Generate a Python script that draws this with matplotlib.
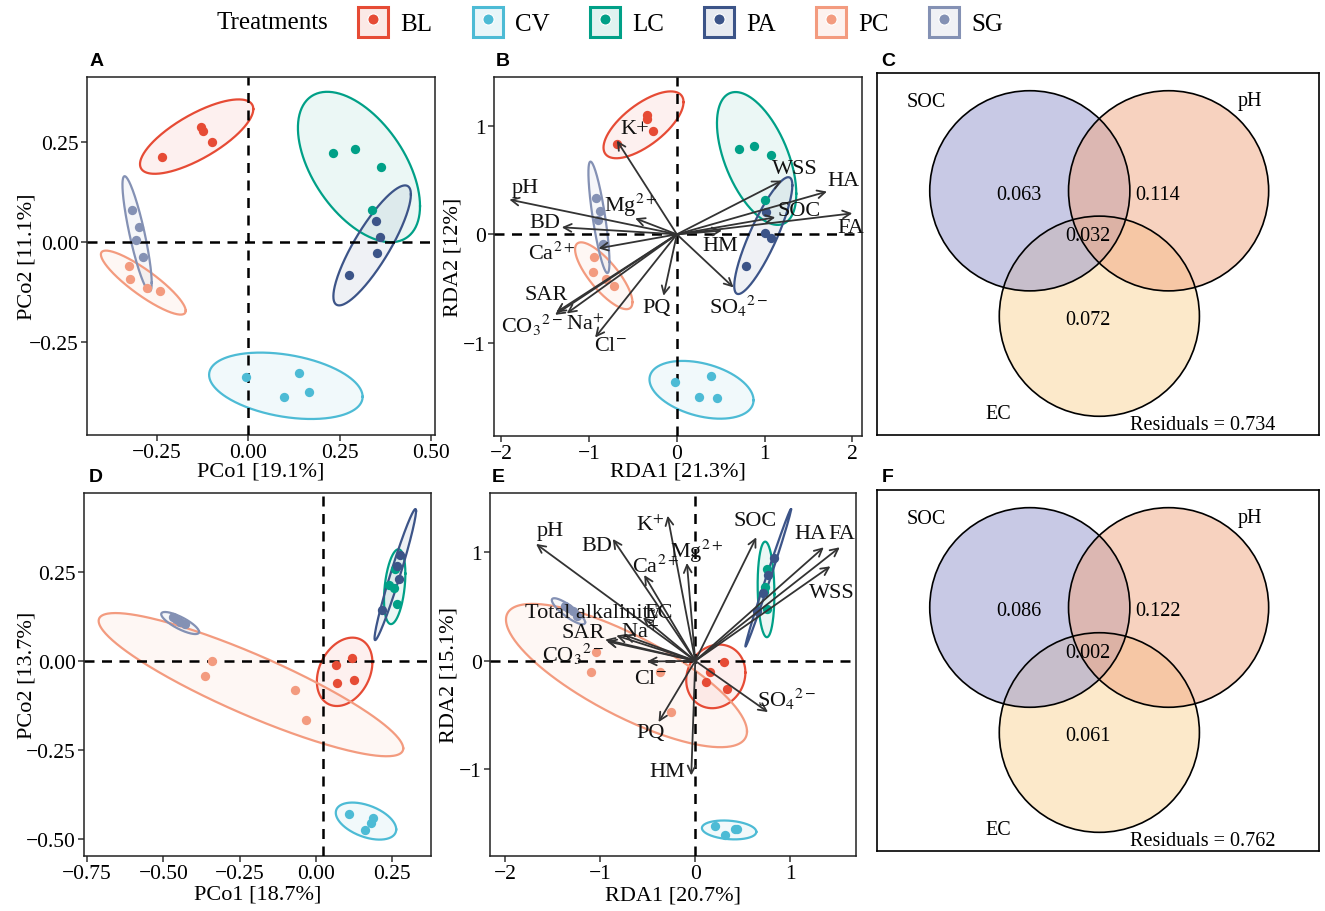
import matplotlib
matplotlib.use("Agg")
import matplotlib.pyplot as plt
import numpy as np
from matplotlib.patches import Patch, Circle
from matplotlib.lines import Line2D
from matplotlib.legend_handler import HandlerTuple
from matplotlib.colors import to_rgba

plt.rcParams['font.family'] = ['Liberation Serif', 'DejaVu Serif']
plt.rcParams['mathtext.fontset'] = 'stix'
plt.rcParams['axes.unicode_minus'] = True

groups = ["BL", "CV", "LC", "PA", "PC", "SG"]
colors = ["#E64B35", "#4DBBD5", "#00A087", "#3C5488", "#F39B7F", "#8491B4"]

# ---- panel A: PCoA
a_x = {"BL": [-0.235, -0.130, -0.123, -0.100], "CV": [-0.007, 0.138, 0.165, 0.097],
       "LC": [0.231, 0.291, 0.362, 0.339], "PA": [0.349, 0.360, 0.353, 0.275],
       "PC": [-0.326, -0.324, -0.276, -0.242], "SG": [-0.319, -0.298, -0.306, -0.287]}
a_y = {"BL": [0.213, 0.288, 0.279, 0.251], "CV": [-0.338, -0.326, -0.375, -0.388],
       "LC": [0.222, 0.234, 0.189, 0.081], "PA": [0.053, 0.012, -0.027, -0.081],
       "PC": [-0.059, -0.092, -0.115, -0.123], "SG": [0.080, 0.038, 0.006, -0.038]}
# ellipse: centre x, centre y, sd-x, sd-y, correlation
a_ell = {"BL": (-0.141, 0.264, 0.155, 0.093, 0.74), "CV": (0.103, -0.359, 0.210, 0.083, -0.33),
         "LC": (0.303, 0.188, 0.167, 0.188, -0.52), "PA": (0.339, -0.008, 0.106, 0.150, 0.85),
         "PC": (-0.287, -0.101, 0.116, 0.080, -0.88), "SG": (-0.304, 0.021, 0.040, 0.144, -0.85)}

# ---- panel B: RDA
b_x = {"BL": [-0.677, -0.342, -0.338, -0.270], "CV": [-0.019, 0.388, 0.255, 0.460],
       "LC": [0.703, 0.882, 1.076, 1.004], "PA": [1.015, 1.008, 1.072, 0.791],
       "PC": [-0.943, -0.951, -0.806, -0.715], "SG": [-0.924, -0.875, -0.894, -0.844]}
b_y = {"BL": [0.836, 1.099, 1.068, 0.951], "CV": [-1.361, -1.312, -1.503, -1.512],
       "LC": [0.793, 0.818, 0.735, 0.321], "PA": [0.210, 0.012, -0.037, -0.296],
       "PC": [-0.213, -0.352, -0.414, -0.481], "SG": [0.333, 0.213, 0.136, -0.090]}
b_ell = {"BL": (-0.380, 1.012, 0.456, 0.309, 0.68), "CV": (0.281, -1.437, 0.593, 0.267, -0.36),
         "LC": (0.909, 0.701, 0.452, 0.614, -0.53), "PA": (0.985, -0.012, 0.331, 0.540, 0.86),
         "PC": (-0.833, -0.383, 0.327, 0.309, -0.79), "SG": (-0.888, 0.157, 0.120, 0.515, -0.80)}
b_vars = ["K+", "pH", "BD", "Mg$^{2+}$", "Ca$^{2+}$", "SAR", "CO$_3$$^{2-}$", "Na$^{+}$",
          "Cl$^{-}$", "PQ", "SO$_4$$^{2-}$", "HM", "SOC", "WSS", "HA", "FA"]
b_arx = [-0.684, -1.909, -1.312, -0.475, -0.894, -1.376, -1.388, -1.255,
         -0.932, -0.152, 0.646, 0.513, 1.122, 1.198, 1.711, 2.000]
b_ary = [0.867, 0.321, 0.065, 0.148, -0.130, -0.722, -0.744, -0.731,
         -0.954, -0.568, -0.491, 0.034, 0.157, 0.497, 0.395, 0.194]
b_lbx = [-0.475, -1.730, -1.502, -0.532, -1.426, -1.490, -1.654, -1.046,
         -0.760, -0.228, 0.703, 0.494, 1.388, 1.350, 1.894, 1.977]
b_lby = [0.981, 0.435, 0.111, 0.281, -0.173, -0.552, -0.830, -0.830,
         -1.031, -0.676, -0.654, -0.099, 0.219, 0.605, 0.497, 0.059]

# ---- panel D: PCoA
d_x = {"BL": [0.066, 0.118, 0.068, 0.125], "CV": [0.109, 0.188, 0.181, 0.161],
       "LC": [0.241, 0.256, 0.265, 0.260], "PA": [0.274, 0.267, 0.271, 0.216],
       "PC": [-0.342, -0.362, -0.069, -0.033], "SG": [-0.468, -0.446, -0.430, -0.457]}
d_y = {"BL": [-0.011, 0.009, -0.060, -0.053], "CV": [-0.430, -0.439, -0.455, -0.474],
       "LC": [0.213, 0.206, 0.160, 0.258], "PA": [0.298, 0.266, 0.230, 0.143],
       "PC": [0.000, -0.041, -0.081, -0.166], "SG": [0.123, 0.109, 0.104, 0.118]}
d_ell = {"BL": (0.094, -0.030, 0.091, 0.096, 0.28), "CV": (0.164, -0.449, 0.099, 0.052, -0.45),
         "LC": (0.258, 0.209, 0.035, 0.105, 0.35), "PA": (0.260, 0.243, 0.068, 0.184, 0.97),
         "PC": (-0.213, -0.066, 0.499, 0.201, -0.89), "SG": (-0.445, 0.107, 0.062, 0.031, -0.80)}

# ---- panel E: RDA
e_x = {"BL": [0.305, 0.158, 0.112, 0.333], "CV": [0.211, 0.421, 0.439, 0.316],
       "LC": [0.754, 0.737, 0.719, 0.754], "PA": [0.832, 0.765, 0.712, 0.649],
       "PC": [-1.042, -1.098, -0.368, -0.253], "SG": [-1.368, -1.281, -1.246, -1.333]}
e_y = {"BL": [-0.006, -0.098, -0.190, -0.258], "CV": [-1.521, -1.546, -1.546, -1.607],
       "LC": [0.847, 0.678, 0.632, 0.479], "PA": [0.945, 0.791, 0.626, 0.463],
       "PC": [0.086, -0.098, -0.098, -0.472], "SG": [0.509, 0.463, 0.417, 0.485]}
e_ell = {"BL": (0.216, -0.143, 0.311, 0.293, 0.12), "CV": (0.356, -1.557, 0.286, 0.087, -0.20),
         "LC": (0.744, 0.658, 0.088, 0.440, -0.10), "PA": (0.767, 0.765, 0.240, 0.633, 0.995),
         "PC": (-0.723, -0.135, 1.267, 0.660, -0.78), "SG": (-1.333, 0.457, 0.175, 0.120, -0.85)}
e_vars = ["pH", "BD", "K$^{+}$", "Ca$^{2+}$", "Mg$^{2+}$", "SOC", "HA", "FA", "WSS",
          "Total alkalinity", "EC", "SAR", "CO$_3$$^{2-}$", "Na$^{+}$", "Cl$^{-}$", "PQ", "HM",
          "SO$_4$$^{2-}$"]
e_arx = [-1.674, -0.867, -0.291, -0.537, -0.088, 0.642, 1.351, 1.519, 1.421,
         -0.830, -0.550, -0.947, -0.930, -0.747, -0.509, -0.386, -0.042, 0.765]
e_ary = [1.077, 1.123, 1.337, 0.791, 0.902, 1.138, 1.046, 1.046, 0.871,
         0.233, 0.400, 0.196, 0.180, 0.239, -0.006, -0.564, -1.055, -0.472]
e_lbx = [-1.526, -1.035, -0.474, -0.421, 0.018, 0.632, 1.211, 1.544, 1.439,
         -1.081, -0.380, -1.175, -1.281, -0.579, -0.474, -0.474, -0.298, 0.965]
e_lby = [1.199, 1.061, 1.252, 0.877, 1.015, 1.291, 1.169, 1.169, 0.632,
         0.448, 0.448, 0.262, 0.066, 0.264, -0.166, -0.656, -1.018, -0.350]

# ---- Venn (variation partitioning)
venn_sets = ["SOC", "pH", "EC"]
venn_fill = ["#9395CD", "#F1A781", "#FBD597"]
c_values = ["0.063", "0.114", "0.032", "0.072"]
c_resid = "0.734"
f_values = ["0.086", "0.122", "0.002", "0.061"]
f_resid = "0.762"

W, H = 1325, 912
fig = plt.figure(figsize=(W / 100, H / 100), dpi=100)


def add_ax(l, t, r, b):
    return fig.add_axes([l / W, 1 - b / H, (r - l) / W, (b - t) / H])


def ellipse(ax, p, col):
    cx, cy, sx, sy, rho = p
    t = np.linspace(0, 2 * np.pi, 300)
    x = cx + sx * np.cos(t)
    y = cy + sy * (rho * np.cos(t) + np.sqrt(1 - rho ** 2) * np.sin(t))
    ax.fill(x, y, color=col, alpha=0.08, lw=0, zorder=1)
    ax.plot(x, y, color=col, lw=1.6, zorder=2)


def ordination(ax, xs, ys, ells, xlim, ylim, xt, yt, xlab, ylab, lab_pos, vx=0.0, vy=0.0):
    for g, c in zip(groups, colors):
        ellipse(ax, ells[g], c)
    ax.axvline(vx, color="black", ls=(0, (4, 3)), lw=1.8, zorder=3)
    ax.axhline(vy, color="black", ls=(0, (4, 3)), lw=1.8, zorder=3)
    for g, c in zip(groups, colors):
        ax.scatter(xs[g], ys[g], s=45, color=c, lw=0, zorder=4)
    ax.set_xlim(xlim)
    ax.set_ylim(ylim)
    ax.set_xticks(xt)
    ax.set_yticks(yt)
    ax.set_xlabel(xlab, fontsize=16)
    ax.set_ylabel(ylab, fontsize=16)
    ax.xaxis.set_label_coords(0.5, lab_pos[0])
    ax.xaxis.label.set_va("center")
    ax.yaxis.set_label_coords(lab_pos[1], 0.5)
    ax.yaxis.label.set_va("center")
    ax.tick_params(labelsize=15.5, length=4, width=1.1, color="#333333", pad=2)
    for s in ax.spines.values():
        s.set_linewidth(1.1)
        s.set_color("#222222")


def arrows(ax, names, ax_, ay_, lx, ly):
    for n, x, y, tx, ty in zip(names, ax_, ay_, lx, ly):
        ax.annotate("", xy=(x, y), xytext=(0, 0),
                    arrowprops=dict(arrowstyle="->", color="#333333", lw=1.3,
                                    mutation_scale=14, shrinkA=0, shrinkB=0), zorder=5)
        ax.text(tx, ty, n, fontsize=16, ha="center", va="center", color="#111111", zorder=6)


def fmt2(v):
    return ("%.2f" % v).replace("-", "\u2212")


axA = add_ax(87, 78, 435, 436)
ordination(axA, a_x, a_y, a_ell, (-0.441, 0.511), (-0.482, 0.413),
           [-0.25, 0, 0.25, 0.5], [-0.25, 0, 0.25], "PCo1 [19.1%]", "PCo2 [11.1%]",
           (-0.100, -0.172))
axA.set_xticklabels([fmt2(v) for v in [-0.25, 0, 0.25, 0.5]])
axA.set_yticklabels([fmt2(v) for v in [-0.25, 0, 0.25]])

axB = add_ax(494, 78, 862, 437)
ordination(axB, b_x, b_y, b_ell, (-2.084, 2.11), (-1.864, 1.454),
           [-2, -1, 0, 1, 2], [-1, 0, 1], "RDA1 [21.3%]", "RDA2 [12%]", (-0.098, -0.111))
arrows(axB, b_vars, b_arx, b_ary, b_lbx, b_lby)

axD = add_ax(84, 494, 431, 857)
ordination(axD, d_x, d_y, d_ell, (-0.760, 0.377), (-0.547, 0.472),
           [-0.75, -0.5, -0.25, 0, 0.25], [-0.5, -0.25, 0, 0.25], "PCo1 [18.7%]", "PCo2 [13.7%]",
           (-0.104, -0.164), vx=0.022)
axD.set_xticklabels([fmt2(v) for v in [-0.75, -0.5, -0.25, 0, 0.25]])
axD.set_yticklabels([fmt2(v) for v in [-0.5, -0.25, 0, 0.25]])

axE = add_ax(490, 494, 856, 857)
ordination(axE, e_x, e_y, e_ell, (-2.158, 1.69), (-1.797, 1.546),
           [-2, -1, 0, 1], [-1, 0, 1], "RDA1 [20.7%]", "RDA2 [15.1%]", (-0.108, -0.112))
arrows(axE, e_vars, e_arx, e_ary, e_lbx, e_lby)


def venn(ax, vals, resid):
    centres = [(0.0, 0.0), (1.387, 0.0), (0.695, -1.253)]
    for i in [2, 0, 1]:
        ax.add_patch(Circle(centres[i], 1.0, facecolor=venn_fill[i], alpha=0.5, lw=0, zorder=1))
    for c in centres:
        ax.add_patch(Circle(c, 1.0, facecolor="none", edgecolor="black", lw=1.2, zorder=2))
    ax.set_xlim(-1.527, 2.89)
    ax.set_ylim(-2.44, 1.177)
    ax.set_xticks([])
    ax.set_yticks([])
    for s in ax.spines.values():
        s.set_linewidth(1.2)
    kw = dict(fontsize=14.5, ha="center", va="center", zorder=3)
    ax.text(-1.033, 0.89, venn_sets[0], **kw)
    ax.text(2.20, 0.90, venn_sets[1], **kw)
    ax.text(-0.31, -2.223, venn_sets[2], **kw)
    ax.text(-0.11, -0.033, vals[0], **kw)
    ax.text(1.277, -0.033, vals[1], **kw)
    ax.text(0.58, -0.45, vals[2], **kw)
    ax.text(0.58, -1.283, vals[3], **kw)
    ax.text(1.727, -2.333, "Residuals = " + resid, **kw)


axC = add_ax(877, 74, 1319, 436)
venn(axC, c_values, c_resid)
axF = add_ax(877, 491, 1319, 852)
venn(axF, f_values, f_resid)

# panel letters
for lab, x, y in [("A", 97, 62), ("B", 503, 62), ("C", 888, 62),
                  ("D", 96, 478), ("E", 498, 478), ("F", 888, 478)]:
    fig.text(x / W, 1 - y / H, lab, fontsize=14, fontweight="bold",
             family="Liberation Sans", ha="center", va="center")

# legend
handles = []
for c in colors:
    sq = Patch(facecolor=to_rgba(c, 0.12), edgecolor=c, lw=2.2)
    dot = Line2D([], [], marker="o", ms=8, mfc=c, mec="white", mew=0.8, ls="")
    handles.append((sq, dot))
fig.text(272 / W, 1 - 23 / H, "Treatments", fontsize=18, ha="center", va="center")
fig.legend(handles, groups, handler_map={tuple: HandlerTuple(ndivide=1, pad=0)},
           loc="center left", bbox_to_anchor=(358 / W, 1 - 23 / H), ncol=6,
           frameon=False, fontsize=18, handlelength=1.2, handleheight=1.47,
           handletextpad=0.5, columnspacing=1.6, borderpad=0, borderaxespad=0)

fig.savefig("out.png", dpi=100)
